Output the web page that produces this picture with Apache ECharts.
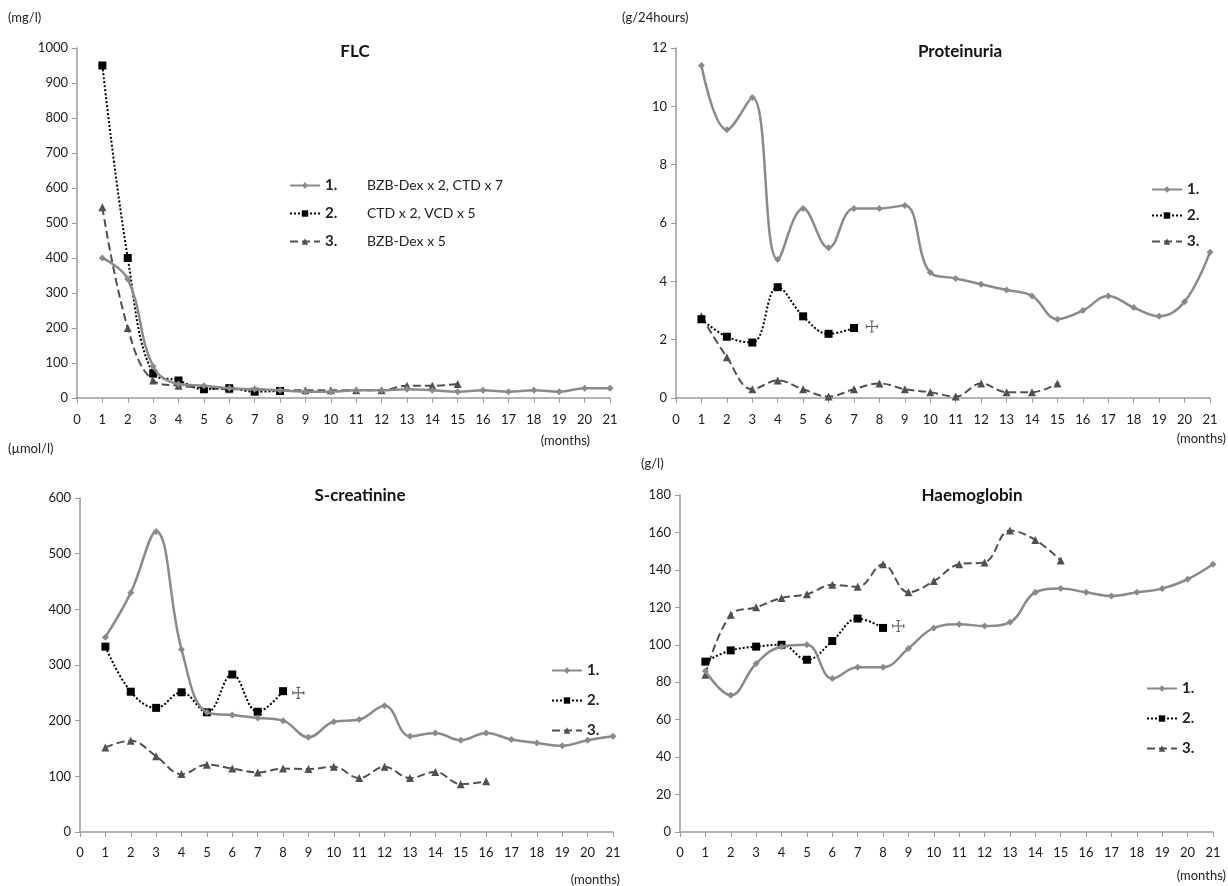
<!DOCTYPE html>
<html>
<head>
<meta charset="utf-8">
<script src="https://cdn.jsdelivr.net/npm/echarts@6/dist/echarts.min.js"></script>
<style>html,body{margin:0;padding:0;background:#fff}#c{width:1228px;height:886px}</style>
</head>
<body>
<div id="c"></div>
<script>
// ---- data ----
const months = [1,2,3,4,5,6,7,8,9,10,11,12,13,14,15,16,17,18,19,20,21];
const monthTicks = [0,1,2,3,4,5,6,7,8,9,10,11,12,13,14,15,16,17,18,19,20,21];
const seriesNames = ['1.', '2.', '3.'];
const regimens = ['BZB-Dex x 2, CTD x 7', 'CTD x 2, VCD x 5', 'BZB-Dex x 5'];
const panelTitles = ['FLC', 'Proteinuria', 'S-creatinine', 'Haemoglobin'];
const unitLabels = ['(mg/l)', '(g/24hours)', '(\u00b5mol/l)', '(g/l)'];

const flc1 = [400, 340, 90, 40, 35, 28, 25, 22, 18, 18, 22, 22, 25, 22, 18, 22, 18, 22, 18, 28, 28];
const flc2 = [950, 400, 70, 50, 25, 28, 18, 20];
const flc3 = [545, 200, 50, 35, 30, 25, 25, 22, 22, 22, 22, 22, 35, 35, 40];

const prot1 = [11.4, 9.2, 10.3, 4.75, 6.5, 5.15, 6.5, 6.5, 6.6, 4.3, 4.1, 3.9, 3.7, 3.5, 2.7, 3.0, 3.5, 3.1, 2.8, 3.3, 5.0];
const prot2 = [2.7, 2.1, 1.9, 3.8, 2.8, 2.2, 2.4];
const prot3 = [2.8, 1.4, 0.3, 0.6, 0.3, 0.05, 0.3, 0.5, 0.3, 0.2, 0.05, 0.5, 0.2, 0.2, 0.5];

const creat1 = [350, 430, 540, 328, 215, 210, 205, 200, 170, 198, 202, 227, 172, 178, 165, 178, 166, 160, 155, 165, 172];
const creat2 = [333, 252, 223, 251, 215, 283, 216, 253];
const creat3 = [152, 164, 136, 104, 121, 114, 107, 114, 113, 117, 97, 117, 97, 108, 86, 91];

const hb1 = [86, 73, 90, 99, 100, 82, 88, 88, 98, 109, 111, 110, 112, 128, 130, 128, 126, 128, 130, 135, 143];
const hb2 = [91, 97, 99, 100, 92, 102, 114, 109];
const hb3 = [84, 116, 120, 125, 127, 132, 131, 143, 128, 134, 143, 144, 161, 156, 145];

// death markers (patient 2): [month, value]
const deathProt = [7.7, 2.45];
const deathCreat = [8.6, 250];
const deathHb = [8.6, 110];

const yMax = [1000, 12, 600, 180];
const yStep = [100, 2, 100, 20];

// ---- layout / style ----
const FONT = 'Lato, "Open Sans", sans-serif';
const grids = [
  {left: 77, right: 618, top: 48, bottom: 488},
  {left: 676, right: 18, top: 48, bottom: 488},
  {left: 80, right: 615, top: 498, bottom: 54},
  {left: 680, right: 15, top: 495, bottom: 54}
];
const styles = [
  {color: '#8a8a8a', type: 'solid', width: 2.5, symbol: 'diamond', size: 7},
  {color: '#000000', type: 'dotted', width: 2, symbol: 'rect', size: 8},
  {color: '#505050', type: 'dashed', width: 2, symbol: 'triangle', size: 8}
];
const panelData = [
  [flc1, flc2, flc3],
  [prot1, prot2, prot3],
  [creat1, creat2, creat3],
  [hb1, hb2, hb3]
];
const deaths = [null, deathProt, deathCreat, deathHb];

function pairs(vals) { return vals.map((v, i) => [months[i], v]); }

const xAxes = grids.map((g, i) => ({
  type: 'value', gridIndex: i, min: 0, max: 21, interval: 1,
  axisLine: {lineStyle: {color: '#9a9a9a', width: 1.5}},
  axisTick: {show: true, length: 5, lineStyle: {color: '#9a9a9a'}},
  axisLabel: {color: '#1a1a1a', fontFamily: FONT, fontSize: 13, margin: i < 2 ? 15 : 14,
    formatter: v => monthTicks.indexOf(v) >= 0 ? String(v) : ''},
  splitLine: {show: false}
}));
const yAxes = grids.map((g, i) => ({
  type: 'value', gridIndex: i, min: 0, max: yMax[i], interval: yStep[i],
  axisLine: {show: true, lineStyle: {color: '#9a9a9a', width: 1.5}},
  axisTick: {show: true, length: 5, lineStyle: {color: '#9a9a9a'}},
  axisLabel: {color: '#1a1a1a', fontFamily: FONT, fontSize: 13, margin: 9,
    formatter: v => String(v)},
  splitLine: {show: false}
}));

const series = [];
panelData.forEach((sets, p) => {
  sets.forEach((vals, k) => {
    const s = styles[k];
    series.push({
      name: seriesNames[k], type: 'line', xAxisIndex: p, yAxisIndex: p,
      data: pairs(vals), smooth: 0.4, symbol: s.symbol, symbolSize: s.size,
      showAllSymbol: true, z: 5 - k,
      lineStyle: {color: s.color, type: s.type, width: s.width},
      itemStyle: {color: s.color, borderWidth: 0},
      emphasis: {disabled: true}
    });
  });
  if (deaths[p]) {
    series.push({
      name: 'death', type: 'scatter', xAxisIndex: p, yAxisIndex: p,
      data: [deaths[p]], symbolSize: 11,
      symbol: 'path://M6,0L6,12M0,6L12,6M4,0L8,0M4,12L8,12M0,4L0,8M12,4L12,8',
      itemStyle: {color: 'rgba(0,0,0,0)', borderColor: '#333', borderWidth: 1.1},
      emphasis: {disabled: true}
    });
  }
});

const legendPos = [
  {left: 284, top: 173, itemGap: 13},
  {left: 1146, top: 177, itemGap: 11},
  {left: 546, top: 658, itemGap: 15},
  {left: 1141, top: 676, itemGap: 15}
];
const legends = legendPos.map((lp, p) => ({
  orient: 'vertical', left: lp.left, top: lp.top, itemGap: lp.itemGap,
  itemWidth: 30, itemHeight: 8, selectedMode: false,
  itemStyle: {borderWidth: 0},
  data: seriesNames,
  textStyle: {fontFamily: FONT, fontSize: 15, fontWeight: 'bold', color: '#222',
    rich: {
      n: {fontFamily: FONT, fontSize: 15, fontWeight: 'bold', color: '#222', width: 42},
      d: {fontFamily: FONT, fontSize: 14, fontWeight: 'normal', color: '#222'}
    }},
  formatter: p === 0
    ? (name => '{n|' + name + '}{d|' + regimens[seriesNames.indexOf(name)] + '}')
    : (name => name)
}));

const titlePos = [[350, 38], [955, 38], [355, 482], [967, 482]];
const titles = panelTitles.map((t, i) => ({
  text: t, left: titlePos[i][0], top: titlePos[i][1], textAlign: 'center',
  textStyle: {fontFamily: FONT, fontSize: 17, fontWeight: 'bold', color: '#111'}
}));

const unitPos = [[8, 11], [622, 11], [8, 442], [641, 457]];
const monthsPos = [[590, 434], [1226, 432], [620, 873], [1226, 869]];
const graphics = [];
unitLabels.forEach((u, i) => graphics.push({
  type: 'text', left: unitPos[i][0], top: unitPos[i][1],
  style: {text: u, fontFamily: FONT, fontSize: 13, fill: '#222'}
}));
monthsPos.forEach(mp => graphics.push({
  type: 'text', x: mp[0], y: mp[1],
  style: {text: '(months)', fontFamily: FONT, fontSize: 13, fill: '#222', textAlign: 'right'}
}));

const chart = echarts.init(document.getElementById('c'), null, {renderer: 'canvas'});
chart.setOption({
  animation: false,
  backgroundColor: '#fff',
  title: titles,
  grid: grids,
  xAxis: xAxes,
  yAxis: yAxes,
  legend: legends,
  series: series,
  graphic: graphics
});
</script>
</body>
</html>
